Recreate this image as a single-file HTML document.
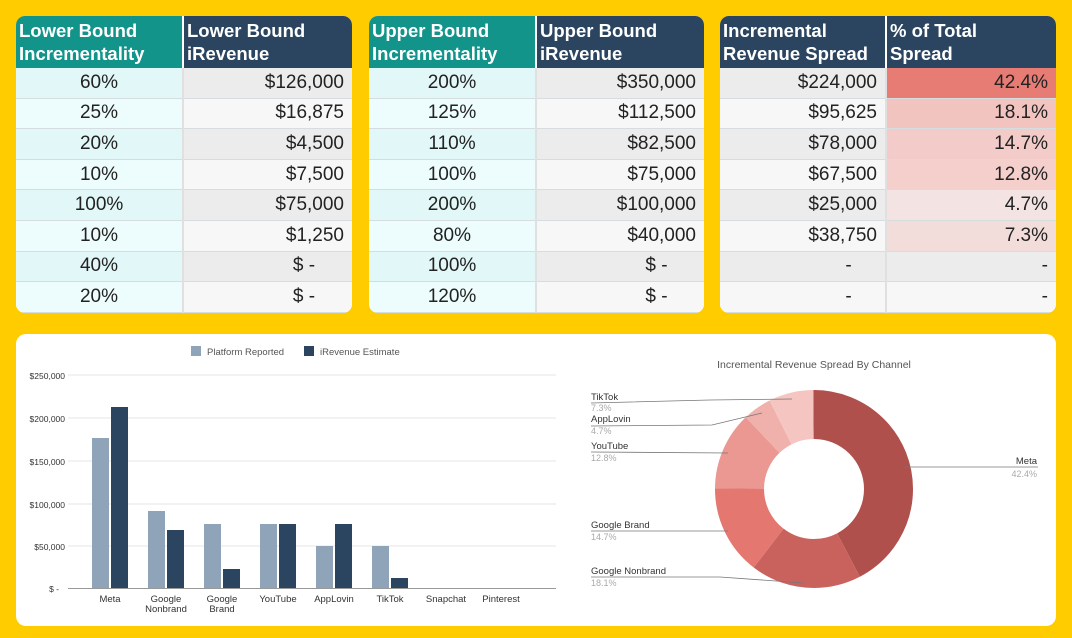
<!DOCTYPE html>
<html><head><meta charset="utf-8"><style>
body{margin:0;width:1072px;height:638px;background:#FFCC00;position:relative;overflow:hidden;font-family:"Liberation Sans",sans-serif}
.t{position:absolute;top:16px;height:297px;border-radius:9px;overflow:hidden;background:#fff}
.t table{border-collapse:collapse;width:100%;table-layout:fixed}
.t th{height:52px;color:#fff;font-weight:bold;font-size:18.5px;text-align:left;line-height:23px;padding:0 3px;vertical-align:middle;border-right:2px solid #fff}
.t td{height:29.6px;font-size:19px;color:#222;border-bottom:1px solid #d6dde0;border-right:2px solid #e0e0e0;padding:0 8px}
.t th:last-child,.t td:last-child{border-right:none}
.tl{background:#13948a}.dk{background:#2b4560}
.c{text-align:center}.r{text-align:right}
.a{background:#e2f7f7}.b{background:#edfcfc}
.g1{background:#ececec}.g2{background:#f7f7f7}
.panel{position:absolute;left:16px;top:334px;width:1040px;height:292px;background:#fff;border-radius:10px}
</style></head><body>

<div class="t" style="left:16px;width:336px">
<table><colgroup><col style="width:167px"><col></colgroup>
<tr><th class="tl">Lower Bound Incrementality</th><th class="dk">Lower Bound iRevenue</th></tr>
<tr><td class="c a">60%</td><td class="r g1">$126,000</td></tr>
<tr><td class="c b">25%</td><td class="r g2">$16,875</td></tr>
<tr><td class="c a">20%</td><td class="r g1">$4,500</td></tr>
<tr><td class="c b">10%</td><td class="r g2">$7,500</td></tr>
<tr><td class="c a">100%</td><td class="r g1">$75,000</td></tr>
<tr><td class="c b">10%</td><td class="r g2">$1,250</td></tr>
<tr><td class="c a">40%</td><td class="c g1" style="padding-left:80px">$ -</td></tr>
<tr><td class="c b">20%</td><td class="c g2" style="padding-left:80px">$ -</td></tr>
</table></div>

<div class="t" style="left:369px;width:335px">
<table><colgroup><col style="width:167px"><col></colgroup>
<tr><th class="tl">Upper Bound Incrementality</th><th class="dk">Upper Bound iRevenue</th></tr>
<tr><td class="c a">200%</td><td class="r g1">$350,000</td></tr>
<tr><td class="c b">125%</td><td class="r g2">$112,500</td></tr>
<tr><td class="c a">110%</td><td class="r g1">$82,500</td></tr>
<tr><td class="c b">100%</td><td class="r g2">$75,000</td></tr>
<tr><td class="c a">200%</td><td class="r g1">$100,000</td></tr>
<tr><td class="c b">80%</td><td class="r g2">$40,000</td></tr>
<tr><td class="c a">100%</td><td class="c g1" style="padding-left:80px">$ -</td></tr>
<tr><td class="c b">120%</td><td class="c g2" style="padding-left:80px">$ -</td></tr>
</table></div>

<div class="t" style="left:720px;width:336px">
<table><colgroup><col style="width:166px"><col></colgroup>
<tr><th class="dk">Incremental Revenue Spread</th><th class="dk" style="padding-right:60px">% of Total Spread</th></tr>
<tr><td class="r g1">$224,000</td><td class="r" style="background:#e67c73">42.4%</td></tr>
<tr><td class="r g2">$95,625</td><td class="r" style="background:#f2c4c0">18.1%</td></tr>
<tr><td class="r g1">$78,000</td><td class="r" style="background:#f3cbc8">14.7%</td></tr>
<tr><td class="r g2">$67,500</td><td class="r" style="background:#f4cfcc">12.8%</td></tr>
<tr><td class="r g1">$25,000</td><td class="r" style="background:#f3e4e3">4.7%</td></tr>
<tr><td class="r g2">$38,750</td><td class="r" style="background:#f3dddb">7.3%</td></tr>
<tr><td class="c g1" style="padding-left:100px">-</td><td class="r g1">-</td></tr>
<tr><td class="c g2" style="padding-left:100px">-</td><td class="r g2">-</td></tr>
</table></div>

<div class="panel"></div>
<svg style="position:absolute;left:0;top:0" width="1072" height="638" font-family="Liberation Sans, sans-serif">
<g font-size="9.5" fill="#555">
<rect x="191" y="346" width="10" height="10" fill="#8fa4b8"/><text x="207" y="355">Platform Reported</text>
<rect x="304" y="346" width="10" height="10" fill="#2b4560"/><text x="320" y="355">iRevenue Estimate</text>
</g>
<g stroke="#e4e4e4" stroke-width="1">
<line x1="68" x2="556" y1="375" y2="375"/><line x1="68" x2="556" y1="418" y2="418"/><line x1="68" x2="556" y1="461" y2="461"/><line x1="68" x2="556" y1="504" y2="504"/><line x1="68" x2="556" y1="546" y2="546"/>
</g>
<line x1="68" x2="556" y1="588.5" y2="588.5" stroke="#999"/>
<g font-size="8.5" fill="#333" text-anchor="end">
<text x="65" y="379">$250,000</text><text x="65" y="422">$200,000</text><text x="65" y="465">$150,000</text><text x="65" y="508">$100,000</text><text x="65" y="550">$50,000</text><text x="59" y="592">$ -</text>
</g>
<g fill="#8fa4b8">
<rect x="92" y="438" width="17" height="150"/><rect x="148" y="511" width="17" height="77"/><rect x="204" y="524" width="17" height="64"/><rect x="260" y="524" width="17" height="64"/><rect x="316" y="546" width="17" height="42"/><rect x="372" y="546" width="17" height="42"/>
</g>
<g fill="#2b4560">
<rect x="111" y="407" width="17" height="181"/><rect x="167" y="530" width="17" height="58"/><rect x="223" y="569" width="17" height="19"/><rect x="279" y="524" width="17" height="64"/><rect x="335" y="524" width="17" height="64"/><rect x="391" y="578" width="17" height="10"/>
</g>
<g font-size="9.5" fill="#333" text-anchor="middle">
<text x="110" y="602">Meta</text><text x="166" y="602">Google</text><text x="166" y="612">Nonbrand</text><text x="222" y="602">Google</text><text x="222" y="612">Brand</text><text x="278" y="602">YouTube</text><text x="334" y="602">AppLovin</text><text x="390" y="602">TikTok</text><text x="446" y="602">Snapchat</text><text x="501" y="602">Pinterest</text>
</g>
<text x="814" y="368" font-size="10.5" fill="#555" text-anchor="middle">Incremental Revenue Spread By Channel</text>
<g transform="translate(814,489) rotate(-90)" fill="none" stroke-width="49">
<circle r="74.5" pathLength="100" stroke="#b0504c" stroke-dasharray="42.4 57.6" stroke-dashoffset="0"/>
<circle r="74.5" pathLength="100" stroke="#c9625c" stroke-dasharray="18.1 81.9" stroke-dashoffset="-42.4"/>
<circle r="74.5" pathLength="100" stroke="#e4776f" stroke-dasharray="14.7 85.3" stroke-dashoffset="-60.5"/>
<circle r="74.5" pathLength="100" stroke="#eb9892" stroke-dasharray="12.8 87.2" stroke-dashoffset="-75.2"/>
<circle r="74.5" pathLength="100" stroke="#f0b0ab" stroke-dasharray="4.7 95.3" stroke-dashoffset="-88"/>
<circle r="74.5" pathLength="100" stroke="#f5c5c1" stroke-dasharray="7.3 92.7" stroke-dashoffset="-92.7"/>
</g>
<g stroke="#777" stroke-width="0.8" fill="none">
<polyline points="591,403 710,400 792,399"/><polyline points="591,426 712,425 762,413"/><polyline points="591,452 728,453"/>
<polyline points="591,531 728,531"/><polyline points="591,577 720,577 804,583"/><polyline points="904,467 1038,467"/>
</g>
<g font-size="9.5" fill="#333"><text x="591" y="400">TikTok</text><text x="591" y="422">AppLovin</text><text x="591" y="449">YouTube</text><text x="591" y="528">Google Brand</text><text x="591" y="574">Google Nonbrand</text><text x="1037" y="464" text-anchor="end">Meta</text></g>
<g font-size="9" fill="#aaa"><text x="591" y="411">7.3%</text><text x="591" y="434">4.7%</text><text x="591" y="461">12.8%</text><text x="591" y="540">14.7%</text><text x="591" y="586">18.1%</text><text x="1037" y="477" text-anchor="end">42.4%</text></g>
</svg>
</body></html>
